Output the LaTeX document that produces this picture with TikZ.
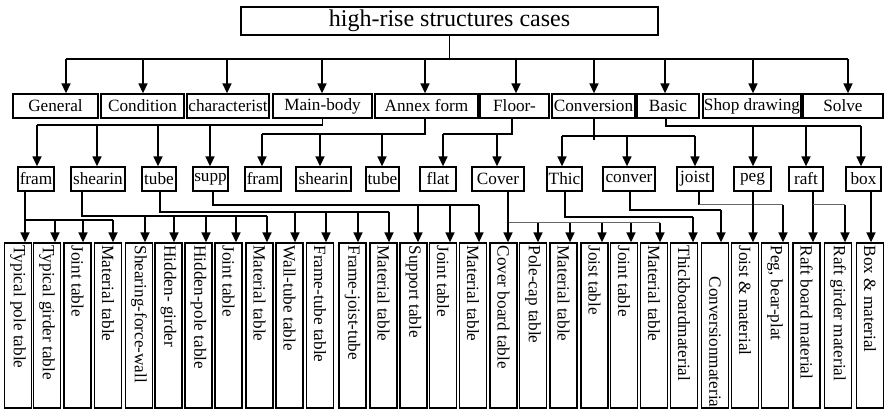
\documentclass[tikz,border=0pt]{standalone}
\usepackage{fontspec}
\setmainfont{Liberation Serif}
\usetikzlibrary{arrows.meta}
\begin{document}
\begin{tikzpicture}[x=1pt,y=-1pt,
  ln/.style={line width=1.5pt},
  lnthin/.style={line width=1pt, draw=black!60},
  arr/.style={line width=1.5pt,-{Triangle[width=9pt,length=10pt]}},
  lvbox/.style={draw, line width=1.3pt, inner sep=0pt, minimum height=24pt,
    font=\fontsize{17.2}{20}\selectfont},
  tab/.style={draw, line width=1.3pt, inner sep=0pt, minimum width=27pt, minimum height=165pt},
  tablab/.style={rotate=-90, anchor=west, inner sep=0pt, font=\fontsize{17.2}{20}\selectfont}
]
\useasboundingbox (0,0) rectangle (886,411);

% root
\node[draw, line width=1.3pt, inner sep=0pt, minimum width=417pt, minimum height=28pt,
  font=\fontsize{24}{28}\selectfont] (title) at (449.5,21) {high-rise structures cases};

% first level
\foreach \n/\cx/\w/\lab in {general/55.5/85/General, condition/142.5/83/Condition,
  charac/228/82/characterist, mainbody/322.5/99/Main-body, annex/426.5/103/Annex form,
  floor/514.5/69/Floor-, conversion/593.5/83/Conversion, basic/668/62/Basic,
  shop/752/98/Shop drawing, solve/843/80/Solve}
  \node[lvbox, minimum width=\w pt] (\n) at (\cx,106) {\lab};

\coordinate (busA) at (0,59);
\draw[ln] (title.south) -- (title.south |- busA);
\draw[ln] (66,0 |- busA) -- (848,0 |- busA);
\foreach \n/\ax in {general/66, condition/143, charac/227, mainbody/322, annex/425,
  floor/516, conversion/594, basic/665, shop/753, solve/848}
  \draw[arr] (\ax,0 |- busA) -- (\ax,0 |- \n.north);

% second level
\foreach \n/\cx/\w/\lab in {framA/36/36/fram, shearA/98/54/shearin, tubeA/159/34/tube,
  supp/210.5/35/supp, framB/263/36/fram, shearB/323.5/55/shearin, tubeB/382.5/33/tube,
  flat/438/36/flat, cover/498/52/Cover, thic/564.5/35/Thic, conver/629/52/conver,
  joist/695/36/joist, peg/752.5/37/peg, raft/806/34/raft, boxn/863.5/35/box}
  \node[lvbox, minimum width=\w pt] (\n) at (\cx,179) {\lab};

% Main-body branch
\coordinate (busMB) at (0,125);
\draw[ln] (mainbody.south) -- (mainbody.south |- busMB) -- (37,0 |- busMB);
\foreach \n/\ax in {framA/37, shearA/97, tubeA/158, supp/210}
  \draw[arr] (\ax,0 |- busMB) -- (\ax,0 |- \n.north);

% Annex form branch
\coordinate (busAN) at (0,134);
\draw[ln] (425,0 |- annex.south) -- (425,0 |- busAN) -- (262,0 |- busAN);
\foreach \n/\ax in {framB/262, shearB/320, tubeB/382}
  \draw[arr] (\ax,0 |- busAN) -- (\ax,0 |- \n.north);

% Floor- branch
\coordinate (busFL) at (0,134);
\draw[ln] (512,0 |- floor.south) -- (512,0 |- busFL) -- (443,0 |- busFL);
\foreach \n/\ax in {flat/443, cover/497}
  \draw[arr] (\ax,0 |- busFL) -- (\ax,0 |- \n.north);

% Conversion branch
\coordinate (busCV) at (0,136);
\draw[ln] (594,0 |- conversion.south) -- (594,140);
\draw[ln] (562,0 |- busCV) -- (695,0 |- busCV);
\foreach \n/\ax in {thic/562, conver/627, joist/695}
  \draw[arr] (\ax,0 |- busCV) -- (\ax,0 |- \n.north);

% Basic branch
\coordinate (busBA) at (0,126);
\draw[ln] (666,0 |- basic.south) -- (666,0 |- busBA) -- (861,0 |- busBA);
\foreach \n/\ax in {peg/753, raft/806, boxn/861}
  \draw[arr] (\ax,0 |- busBA) -- (\ax,0 |- \n.north);

% third level: tables
\foreach \i/\cx/\lab in {1/18/Typical pole table, 2/47/Typical girder table,
  3/77.5/Joint table, 4/108/Material table, 5/139/Shearing-force-wall,
  6/168.5/Hidden- girder, 7/198.5/Hidden-pole table, 8/228.5/Joint table,
  9/259.5/Material table, 10/289.5/Wall-tube table, 11/320/Frame-tube table,
  12/352.5/Frame-joist-tube, 13/383.5/Material table, 14/413.5/Support table,
  15/443/Joint table, 16/473/Material table, 17/503.5/Cover board table,
  18/533/Pole-cap table, 19/563.5/Material table, 20/594.5/Joist table,
  21/624/Joint table, 22/654/Material table, 23/684/Thickboardmaterial,
  25/745/Joist \& material, 26/775/{Peg, bear-plat}, 27/806.5/Raft board material,
  28/838/Raft girder material, 29/870/Box \& material}
{
  \node[tab] (t\i) at (\cx,325.5) {};
  \node[tablab] (l\i) at ([yshift=-3pt]t\i.north) {\lab};
}
\node[tab] (t24) at (715,325.5) {};
\node[tablab] (l24) at ([yshift=-34pt]t24.north) {Conversionmateria};

% fram -> tables 1-4
\coordinate (busF) at (0,220);
\draw[ln] (25,0 |- framA.south) -- (25,0 |- busF) -- (113,0 |- busF);
\foreach \k/\ax in {1/25, 2/55, 3/83, 4/113}
  \draw[arr] (\ax,0 |- busF) -- (\ax,0 |- t\k.north);

% shearin -> tables 5-9
\coordinate (busS) at (0,216);
\draw[ln] (82,0 |- shearA.south) -- (82,0 |- busS) -- (267,0 |- busS);
\foreach \k/\ax in {5/145, 6/174, 7/206, 8/236, 9/267}
  \draw[arr] (\ax,0 |- busS) -- (\ax,0 |- t\k.north);

% tube -> tables 10-13
\coordinate (busT) at (0,212);
\draw[ln] (160,0 |- tubeA.south) -- (160,0 |- busT) -- (389,0 |- busT);
\foreach \k/\ax in {10/295, 11/326, 12/358, 13/389}
  \draw[arr] (\ax,0 |- busT) -- (\ax,0 |- t\k.north);

% supp -> tables 14-16
\coordinate (busP) at (0,205);
\draw[ln] (213,0 |- supp.south) -- (213,0 |- busP) -- (479,0 |- busP);
\foreach \k/\ax in {14/418, 15/450, 16/479}
  \draw[arr] (\ax,0 |- busP) -- (\ax,0 |- t\k.north);

% Cover -> tables 17-22
\coordinate (busC) at (0,223);
\draw[lnthin] (508,0 |- busC) -- (660,0 |- busC);
\draw[arr] (508,0 |- cover.south) -- (508,0 |- t17.north);
\foreach \k/\ax in {18/538, 19/570, 20/602, 21/631, 22/660}
  \draw[arr] (\ax,0 |- busC) -- (\ax,0 |- t\k.north);

% Thic -> table 23
\coordinate (busTh) at (0,217);
\draw[ln] (565,0 |- thic.south) -- (565,0 |- busTh) -- (693,0 |- busTh);
\draw[arr] (693,0 |- busTh) -- (693,0 |- t23.north);

% conver -> table 24
\coordinate (busCo) at (0,210);
\draw[ln] (630,0 |- conver.south) -- (630,0 |- busCo) -- (721,0 |- busCo);
\draw[arr] (721,0 |- busCo) -- (721,0 |- t24.north);

% joist -> table 26, peg -> table 25
\coordinate (busJ) at (0,205);
\draw[ln] (699,0 |- joist.south) -- (699,0 |- busJ);
\draw[lnthin] (699,0 |- busJ) -- (783,0 |- busJ);
\draw[arr] (783,0 |- busJ) -- (783,0 |- t26.north);
\draw[arr] (753,0 |- peg.south) -- (753,0 |- t25.north);

% raft -> tables 27-28
\coordinate (busR) at (0,205);
\draw[arr] (813,0 |- raft.south) -- (813,0 |- t27.north);
\draw[lnthin] (813,0 |- busR) -- (845,0 |- busR);
\draw[arr] (845,0 |- busR) -- (845,0 |- t28.north);

% box -> table 29
\draw[arr] (871,0 |- boxn.south) -- (871,0 |- t29.north);
\end{tikzpicture}
\end{document}
